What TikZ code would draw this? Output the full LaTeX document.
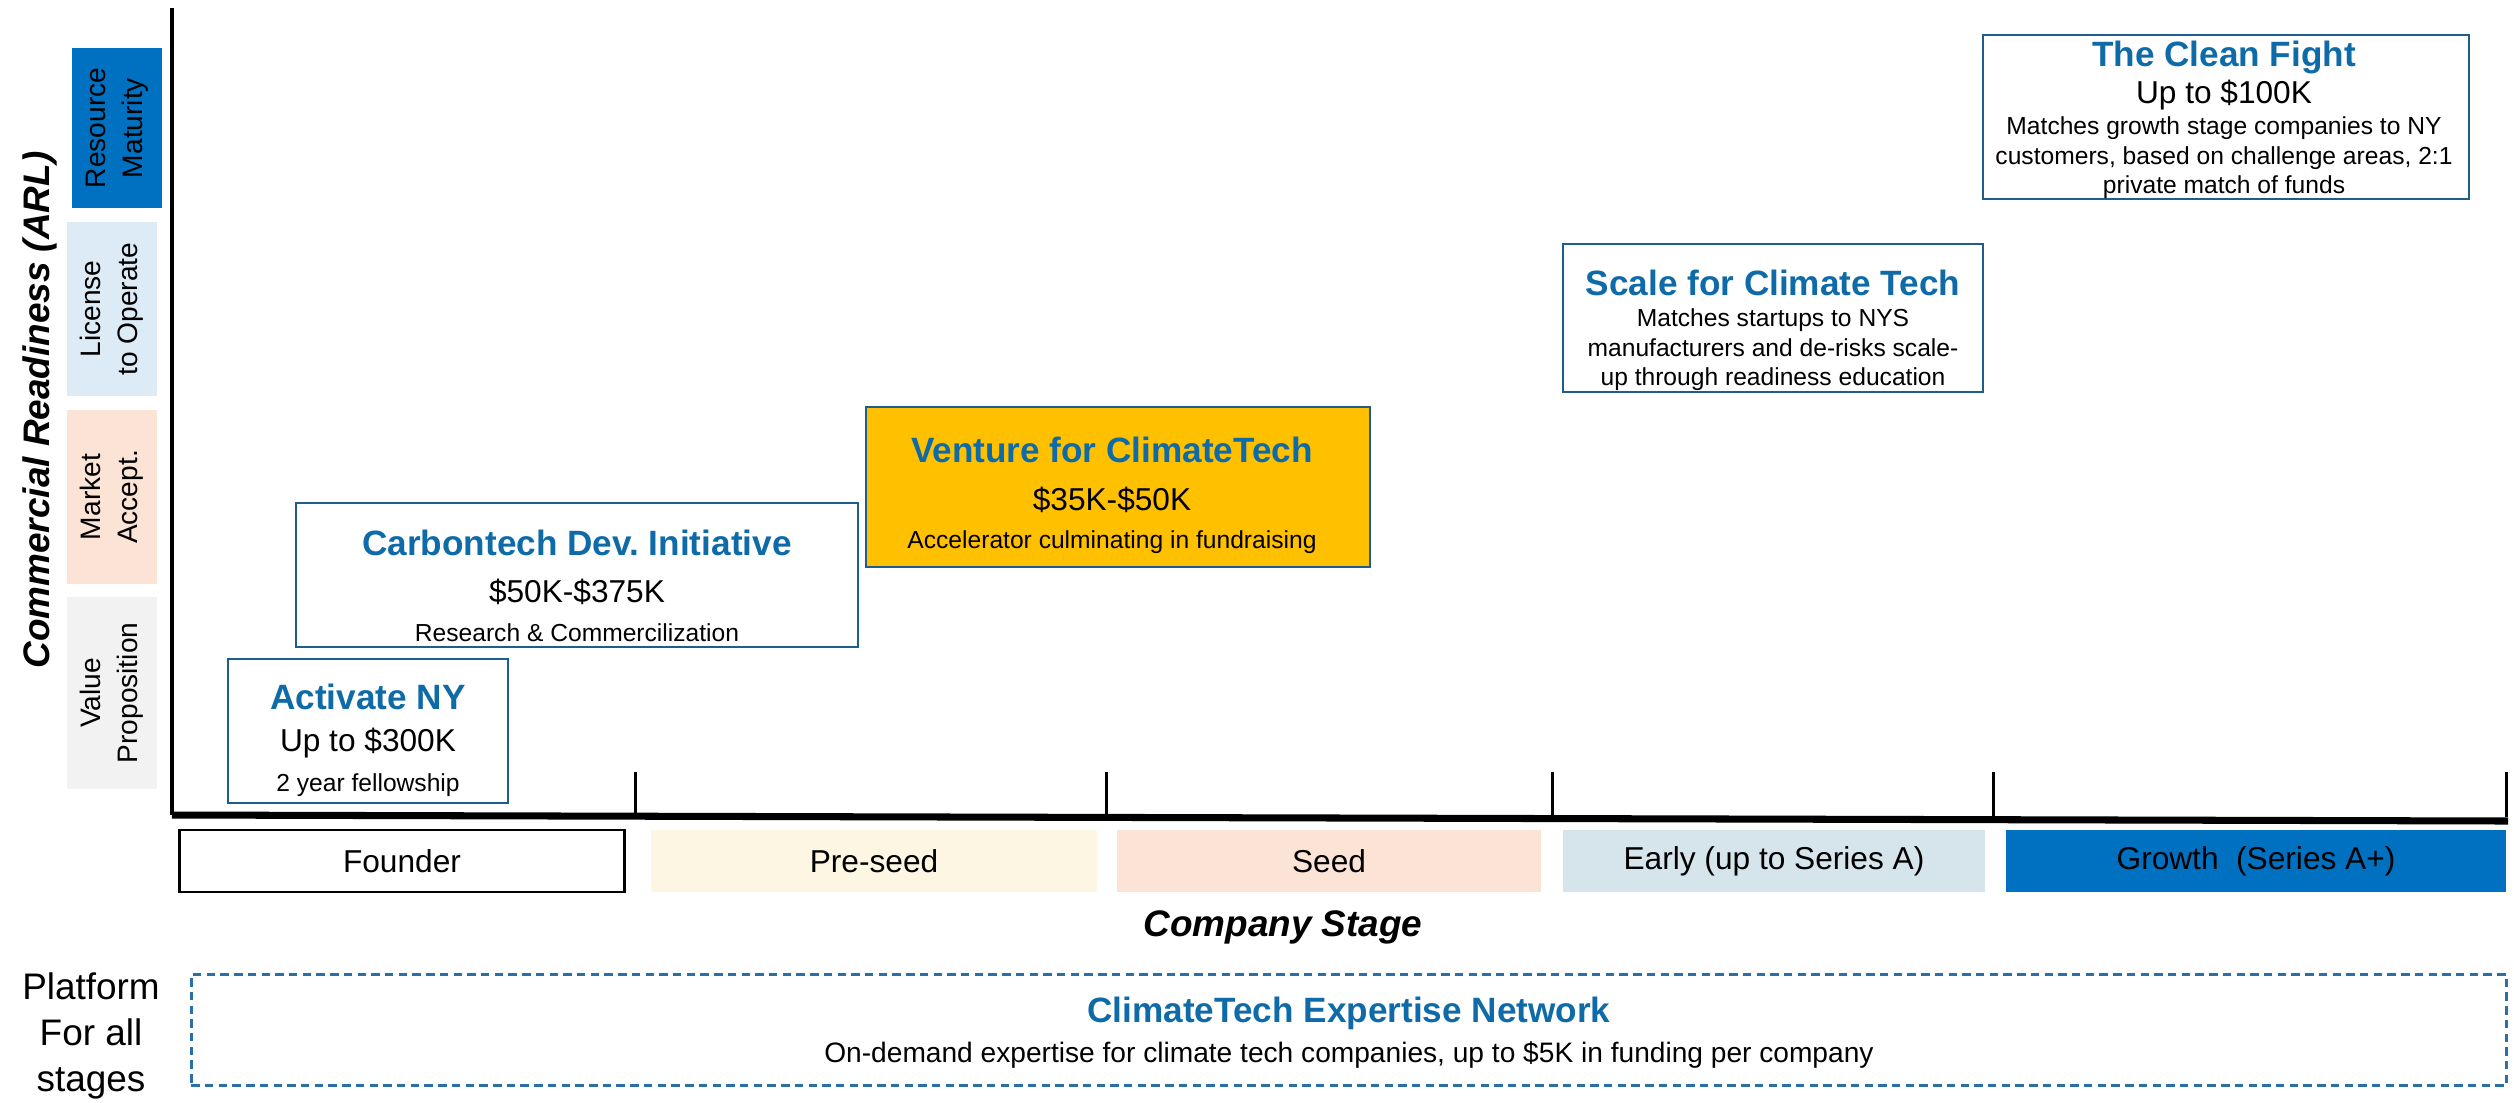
\documentclass[tikz,border=0pt]{standalone}
\usepackage{fontspec}
\setmainfont{Liberation Sans}
\usepackage{xcolor}
\usepackage{tikz}
\definecolor{titleblue}{HTML}{0E6BA8}
\definecolor{boxline}{HTML}{1F5D8C}
\definecolor{catblue}{HTML}{0070C0}
\definecolor{catlight}{HTML}{DDEBF7}
\definecolor{catpeach}{HTML}{FBE3D6}
\definecolor{catgray}{HTML}{F2F2F2}
\definecolor{stagecream}{HTML}{FDF6E3}
\definecolor{stageblue}{HTML}{D6E4EC}
\definecolor{ventureyellow}{HTML}{FFC000}
\definecolor{dashblue}{HTML}{2A6FA8}
\tikzset{prog/.style={draw=boxline, line width=0.6pt, inner sep=0pt},
ptitle/.style={font=\bfseries\fontsize{10}{12}\selectfont, text=titleblue, inner sep=0pt},
pamount/.style={font=\fontsize{9}{11}\selectfont, inner sep=0pt},
pdesc/.style={font=\fontsize{7}{8.4}\selectfont, align=center, inner sep=0pt},
catbox/.style={rotate=90, inner sep=0pt, align=center, font=\fontsize{8}{10.5}\selectfont},
stagebox/.style={minimum height=0.62cm, inner sep=0pt, font=\fontsize{9}{11}\selectfont}}

\begin{document}
\begin{tikzpicture}[x=0.01cm, y=-0.01cm]
\useasboundingbox (0,0) rectangle (2514,1102);
%axes
\coordinate (ytop) at (172,8);
\coordinate (orig) at (172,815);
\coordinate (xend) at (2508,821);
\draw[line width=1.4pt] (ytop) -- (orig);
\draw[line width=2pt] (orig) -- (xend);
\foreach \x in {635,1106,1552,1993,2506}
  \draw[line width=0.85pt] (\x,772) -- (\x,817);
\node[rotate=90, font=\bfseries\itshape\fontsize{10.5}{12}\selectfont] (ylab) at (40,410) {Commercial Readiness (ARL)};
%readiness levels
\node[catbox, fill=catblue, minimum width=1.60cm, minimum height=0.90cm] (rm) at (117,128) {Resource\\Maturity};
\node[catbox, fill=catlight, minimum width=1.73cm, minimum height=0.90cm] (lo) at (112,309) {License\\to Operate};
\node[catbox, fill=catpeach, minimum width=1.74cm, minimum height=0.90cm] (ma) at (112,497) {Market\\Accept.};
\node[catbox, fill=catgray, minimum width=1.92cm, minimum height=0.90cm] (vp) at (112,693) {Value\\Proposition};
%stages
\node[stagebox, draw=black, line width=0.8pt, minimum width=4.45cm] (founder) at (402,861) {Founder};
\node[stagebox, fill=stagecream, minimum width=4.46cm] (preseed) at (874,861) {Pre-seed};
\node[stagebox, fill=catpeach, minimum width=4.24cm] (seed) at (1329,861) {Seed};
\node[stagebox, fill=stageblue, minimum width=4.22cm] (early) at (1774,861) {Early (up to Series A)};
\node[stagebox, fill=catblue, minimum width=4.99cm] (growth) at (2256,861) {Growth\ \ (Series A+)};
\node[font=\bfseries\itshape\fontsize{10.5}{12}\selectfont] (xlab) at (1283,927) {Company Stage};
%programs
\node[prog, minimum width=2.80cm, minimum height=1.44cm] (act) at (368,731) {};
\node[ptitle] (act-t) at (368,697) {Activate NY};
\node[pamount] (act-a) at (368,743) {Up to \$300K};
\node[pdesc] (act-d) at (368,785) {2 year fellowship};
\node[prog, minimum width=5.61cm, minimum height=1.44cm] (cdi) at (577,575) {};
\node[ptitle] (cdi-t) at (577,543) {Carbontech Dev.\ Initiative};
\node[pamount] (cdi-a) at (577,592) {\$50K-\$375K};
\node[pdesc] (cdi-d) at (577,633) {Research \& Commercilization};
\node[prog, fill=ventureyellow, minimum width=5.03cm, minimum height=1.60cm] (vct) at (1118,487) {};
\node[ptitle] (vct-t) at (1112,450) {Venture for ClimateTech};
\node[pamount] (vct-a) at (1112,500) {\$35K-\$50K};
\node[pdesc] (vct-d) at (1112,542) {Accelerator culminating in fundraising};
\node[prog, minimum width=4.20cm, minimum height=1.48cm] (sct) at (1773,318) {};
\node[ptitle] (sct-t) at (1773,283) {Scale for Climate Tech};
\node[pdesc] (sct-d) at (1773,350) {Matches startups to NYS\\manufacturers and de-risks scale-\\up through readiness education};
\node[prog, minimum width=4.86cm, minimum height=1.64cm] (tcf) at (2226,117) {};
\node[ptitle] (tcf-t) at (2224,57) {The Clean Fight};
\node[pamount] (tcf-a) at (2224,95) {Up to \$100K};
\node[pdesc] (tcf-d) at (2224,158) {Matches growth stage companies to NY\\customers, based on challenge areas, 2:1\\private match of funds};
%platform
\node[align=center, font=\fontsize{10.5}{13}\selectfont] (plat) at (91,1036) {Platform\\For all\\stages};
\node[draw=dashblue, line width=0.9pt, dash pattern=on 2.4pt off 1.5pt, minimum width=23.14cm, minimum height=1.11cm] (cen) at (1349,1030) {};
\node[ptitle] (cen-t) at (1349,1013) {ClimateTech Expertise Network};
\node[font=\fontsize{8}{10}\selectfont] (cen-d) at (1349,1055) {On-demand expertise for climate tech companies, up to \$5K in funding per company};
\end{tikzpicture}
\end{document}
